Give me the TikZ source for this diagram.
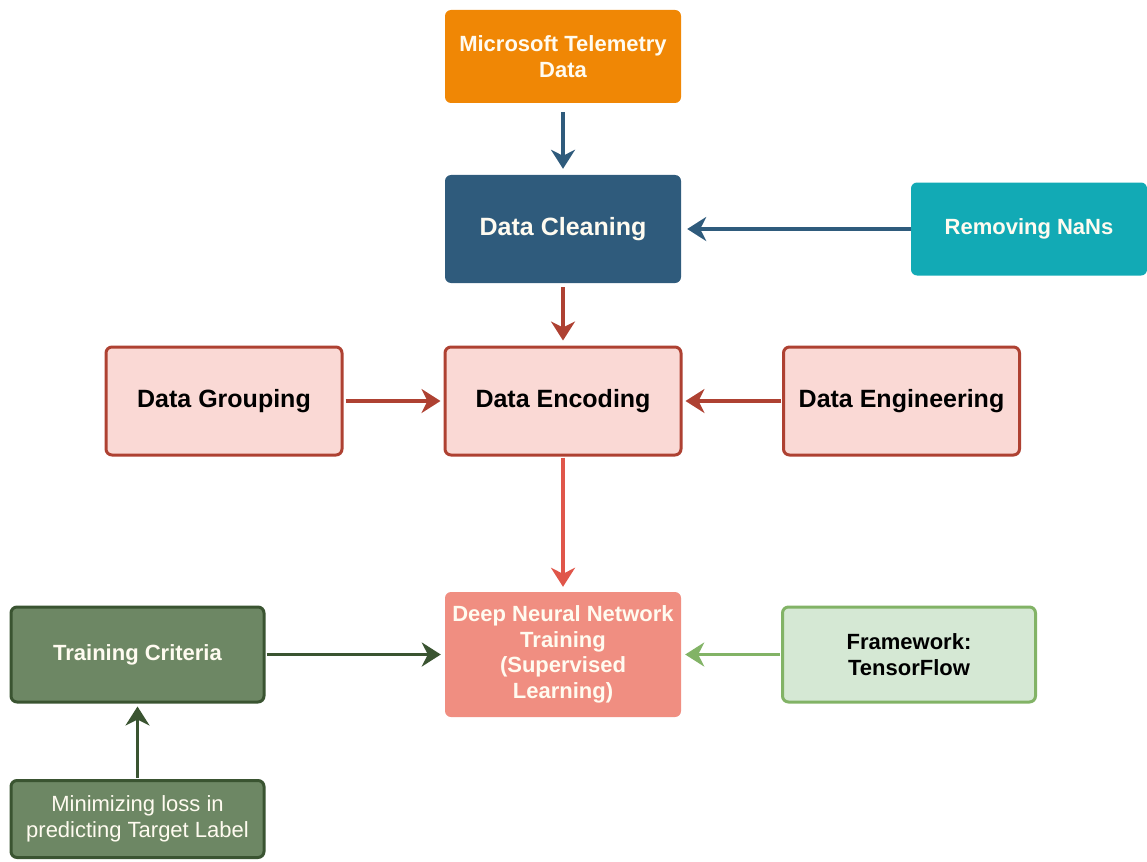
\documentclass[tikz,border=0pt]{standalone}
\usepackage{fontspec}
\setmainfont{Liberation Sans}
\usetikzlibrary{arrows.meta}

\definecolor{tel}{HTML}{F08705}
\definecolor{cleanfill}{HTML}{2F5B7C}
\definecolor{nanfill}{HTML}{12AAB5}
\definecolor{redfill}{HTML}{FAD9D5}
\definecolor{redline}{HTML}{AE4132}
\definecolor{redarrow}{HTML}{E0564A}
\definecolor{dnnfill}{HTML}{F08E81}
\definecolor{fwfill}{HTML}{D5E8D4}
\definecolor{fwline}{HTML}{82B366}
\definecolor{tcfill}{HTML}{6D8764}
\definecolor{tcline}{HTML}{3A5431}
\definecolor{softwhite}{HTML}{FFFBF0}

\tikzset{
  box/.style={rectangle, rounded corners=6pt, align=center, inner sep=2pt},
  bigtext/.style={font=\fontsize{25}{30}\selectfont\bfseries},
  midtext/.style={font=\fontsize{22}{25.5}\selectfont\bfseries},
  plaintext/.style={font=\fontsize{22}{25.5}\selectfont},
  redbox/.style={box, bigtext, fill=redfill, draw=redline, line width=3pt,
                 minimum width=236pt, minimum height=108pt},
  greenbox/.style={box, fill=tcfill, draw=tcline, line width=3pt, text=softwhite,
                   minimum width=253pt},
  conn/.style={line width=3.6pt, -{Stealth[length=19pt,width=24pt,inset=6pt]}},
}

\begin{document}
\begin{tikzpicture}[x=1pt, y=-1pt]
  \useasboundingbox (0,0) rectangle (1147,861);

  % source and cleaning stage
  \node[box, midtext, fill=tel, text=softwhite, minimum width=236pt, minimum height=93pt]
    (tel) at (563,56.5) {Microsoft Telemetry\\Data};
  \node[box, bigtext, fill=cleanfill, text=softwhite, minimum width=236pt, minimum height=108pt]
    (clean) at (563,229) {Data Cleaning};
  \node[box, midtext, fill=nanfill, text=softwhite, minimum width=236pt, minimum height=93pt]
    (nan) at (1029,229) {Removing NaNs};

  % encoding stage
  \node[redbox] (group) at (224,401) {Data Grouping};
  \node[redbox] (enc) at (563,401) {Data Encoding};
  \node[redbox] (eng) at (901.5,401) {Data Engineering};

  % training stage
  \node[box, midtext, fill=dnnfill, text=softwhite, minimum width=236pt, minimum height=125pt]
    (dnn) at (563,654.5) {Deep Neural Network\\Training\\(Supervised\\Learning)};
  \node[box, midtext, fill=fwfill, draw=fwline, line width=3pt, text=black,
        minimum width=253pt, minimum height=95pt]
    (fw) at (909,654.5) {Framework:\\TensorFlow};
  \node[greenbox, midtext, minimum height=95pt] (tc) at (137.5,654.5) {Training Criteria};
  \node[greenbox, plaintext, minimum height=77pt] (mini) at (137.5,819)
    {Minimizing loss in\\predicting Target Label};

  % connectors
  \draw[conn, cleanfill, shorten <=9pt, shorten >=6pt] (tel) -- (clean);
  \draw[conn, cleanfill, shorten >=6pt] (nan) -- (clean);
  \draw[conn, redline, shorten <=4pt, shorten >=5pt] (clean) -- (enc);
  \draw[conn, redline, shorten <=2pt, shorten >=3pt] (group) -- (enc);
  \draw[conn, redline, shorten <=1pt, shorten >=3pt] (eng) -- (enc);
  \draw[conn, redarrow, shorten <=1pt, shorten >=5pt] (enc) -- (dnn);
  \draw[conn, tcline, shorten <=1pt, shorten >=4pt] (tc) -- (dnn);
  \draw[conn, fwline, shorten <=1pt, shorten >=4pt] (fw) -- (dnn);
  \draw[conn, tcline, shorten <=1pt, shorten >=3pt] (mini) -- (tc);
\end{tikzpicture}
\end{document}
